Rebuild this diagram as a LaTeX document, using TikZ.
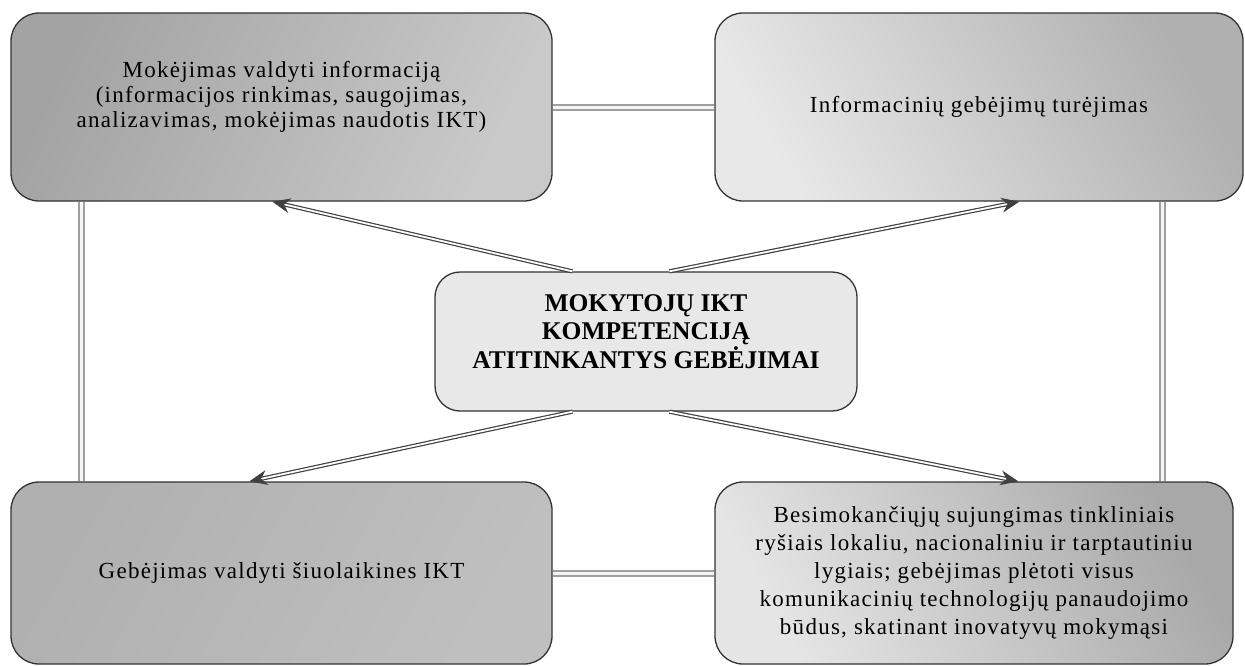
\documentclass[tikz,border=0pt]{standalone}
\usepackage{fontspec}
\setmainfont{Liberation Serif}
\newfontfamily\regfont[LetterSpace=5.5]{Liberation Serif}
\usetikzlibrary{arrows.meta,calc}
\tikzset{
  box/.style={draw=black!80, line width=1.3pt, rounded corners=28pt, align=center,
    inner sep=0pt, font=\regfont\fontsize{23}{25}\selectfont},
  link/.style={draw=gray!75, line width=2pt, double=gray!8, double distance=3pt},
  arr/.style={draw=black!75, line width=1.2pt, double=white, double distance=1.8pt,
    -{Stealth[length=18pt,width=15pt,inset=6pt]}},
}
\begin{document}
\begin{tikzpicture}[x=1pt,y=-1pt]
\useasboundingbox (0,0) rectangle (1245,665);
\node[box, minimum width=541pt, minimum height=188pt, text depth=25pt,
  left color=gray!72, middle color=gray!22, right color=gray!42, shading angle=65]
  (tl) at (281.5,107) {Mokėjimas valdyti informaciją\\(informacijos rinkimas, saugojimas,\\analizavimas, mokėjimas naudotis IKT)};
\node[box, minimum width=528pt, minimum height=188pt,
  left color=gray!18, middle color=gray!32, right color=gray!62, shading angle=120]
  (tr) at (979,107) {Informacinių gebėjimų turėjimas};
\node[box, rounded corners=25pt, minimum width=422pt, minimum height=139pt, text depth=20pt,
  fill=gray!18, font=\bfseries\fontsize{25.5}{28.5}\selectfont]
  (c) at (646,341.5) {MOKYTOJŲ IKT\\KOMPETENCIJĄ\\ATITINKANTYS GEBĖJIMAI};
\node[box, minimum width=541pt, minimum height=182pt,
  left color=gray!62, middle color=gray!20, right color=gray!50, shading angle=60]
  (bl) at (281.5,573) {Gebėjimas valdyti šiuolaikines IKT};
\node[box, minimum width=518pt, minimum height=182pt,
  font=\regfont\fontsize{23}{28}\selectfont,
  left color=gray!20, middle color=gray!35, right color=gray!68, shading angle=120]
  (br) at (974,573) {Besimokančiųjų sujungimas tinkliniais\\ryšiais lokaliu, nacionaliniu ir tarptautiniu\\lygiais; gebėjimas plėtoti visus\\komunikacinių technologijų panaudojimo\\būdus, skatinant inovatyvų mokymąsi};
% links
\draw[link] (tl.east) -- (tr.west);
\draw[link] (bl.east) -- (br.west);
\draw[link] ($(tl.south west)+(71,0)$) -- ($(bl.north west)+(71,0)$);
\draw[link] ($(tr.south west)+(448,0)$) -- ($(br.north west)+(448,0)$);
% arrows
\draw[arr] ($(c.north west)+(138,0)$) -- ($(tl.south west)+(262,0)$);
\draw[arr] ($(c.north west)+(235,0)$) -- ($(tr.south west)+(305,0)$);
\draw[arr] ($(c.south west)+(138,0)$) -- ($(bl.north west)+(239,0)$);
\draw[arr] ($(c.south west)+(235,0)$) -- ($(br.north west)+(304,0)$);
\end{tikzpicture}
\end{document}
